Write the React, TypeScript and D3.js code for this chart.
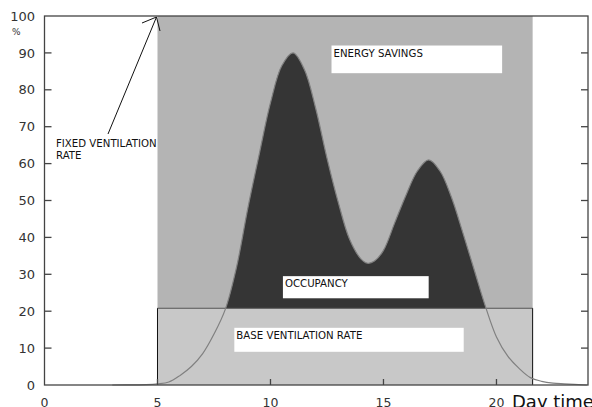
import React from "react";
import * as d3 from "d3";

// occupancy curve (hour of day, %)
const hours = [3, 4, 4.5, 5, 5.5, 6, 6.5, 7, 7.5, 8, 8.5, 9, 9.5, 10, 10.5, 11, 11.5, 12, 12.5, 13, 13.5, 14, 14.3, 14.6, 15, 15.5, 16, 16.5, 17, 17.5, 18, 18.5, 19, 19.5, 20, 20.5, 21, 21.5, 22, 22.5, 23, 24];
const occupancy = [0, 0.05, 0.1, 0.3, 0.8, 2.6, 5, 8.5, 13.8, 20.5, 32, 48, 62.5, 76.5, 86.5, 90, 85.5, 75, 61.5, 49.5, 39.5, 34.2, 33, 33.6, 36.5, 44, 51.5, 58, 61, 58, 51, 41.5, 31.5, 21.5, 13, 7.8, 4.5, 2, 1, 0.5, 0.3, 0];

const baseRate = 20.8;
const fixedRate = 100;
const operStart = 5;
const operEnd = 21.6;

const xTicks = [0, 5, 10, 15, 20];
const yTicks = [0, 10, 20, 30, 40, 50, 60, 70, 80, 90, 100];

const W = 592;
const H = 407;
const m = { left: 44.5, right: 4, top: 16, bottom: 22 };

export default function App() {
  const x = d3.scaleLinear().domain([0, 24.05]).range([m.left, W - m.right]);
  const y = d3.scaleLinear().domain([0, 100]).range([H - m.bottom, m.top]);

  const pts = hours.map((h, i) => ({ h, v: occupancy[i] }));
  const inside = pts.filter((p) => p.h >= operStart && p.h <= operEnd);

  const smooth = d3.curveCatmullRom.alpha(0.5);

  const line = d3
    .line<{ h: number; v: number }>()
    .x((d) => x(d.h))
    .y((d) => y(d.v))
    .curve(smooth);

  // occupancy fill, clipped to the part above the base rate
  const darkArea = d3
    .area<{ h: number; v: number }>()
    .x((d) => x(d.h))
    .y0(y(0))
    .y1((d) => y(d.v))
    .curve(smooth);

  const axisCol = "#444";
  const font = "DejaVu Sans, sans-serif";

  const labelBox = (
    x0: number,
    x1: number,
    v0: number,
    v1: number,
    text: string
  ) => (
    <g>
      <rect x={x(x0)} y={y(v1)} width={x(x1) - x(x0)} height={y(v0) - y(v1)} fill="#fff" />
      <text x={x(x0) + 2} y={y(v1) + 11} fontSize={10.2} fontFamily={font} fill="#111">
        {text}
      </text>
    </g>
  );

  return (
    <svg
      width={W}
      height={H}
      style={{ position: "absolute", left: 0, top: 0, background: "#fff" }}
    >
      <defs>
        <clipPath id="aboveBase">
          <rect
            x={x(operStart)}
            y={y(fixedRate)}
            width={x(operEnd) - x(operStart)}
            height={y(baseRate) - y(fixedRate)}
          />
        </clipPath>
      </defs>

      {/* fixed ventilation annotation text (behind gray area) */}
      <text fontSize={10.2} fontFamily={font} fill="#111">
        <tspan x={56} y={147}>FIXED VENTILATION</tspan>
        <tspan x={56} y={159}>RATE</tspan>
      </text>

      {/* energy savings region */}
      <rect
        x={x(operStart)}
        y={y(fixedRate)}
        width={x(operEnd) - x(operStart)}
        height={y(0) - y(fixedRate)}
        fill="#b4b4b4"
      />
      {/* base ventilation */}
      <rect
        x={x(operStart)}
        y={y(baseRate)}
        width={x(operEnd) - x(operStart)}
        height={y(0) - y(baseRate)}
        fill="#c8c8c8"
      />

      <path d={darkArea(inside) ?? ""} fill="#353535" clipPath="url(#aboveBase)" />

      <line x1={x(operStart)} x2={x(operEnd)} y1={y(baseRate)} y2={y(baseRate)} stroke="#555" strokeWidth={1.2} />
      <line x1={x(operStart)} x2={x(operStart)} y1={y(baseRate)} y2={y(0)} stroke="#111" strokeWidth={1} />
      <line x1={x(operEnd)} x2={x(operEnd)} y1={y(baseRate)} y2={y(0)} stroke="#111" strokeWidth={1} />

      <path d={line(pts) ?? ""} fill="none" stroke="#808080" strokeWidth={1.2} />

      {labelBox(12.7, 20.25, 84.5, 92, "ENERGY SAVINGS")}
      {labelBox(10.55, 17, 23.5, 29.5, "OCCUPANCY")}
      {labelBox(8.4, 18.55, 9, 15.5, "BASE VENTILATION RATE")}

      {/* arrow */}
      <g stroke="#111" strokeWidth={1} fill="none">
        <line x1={108} y1={134} x2={x(operStart) - 1} y2={y(fixedRate) + 1} />
        <polyline points={`${142},${23} ${x(operStart) - 1},${y(fixedRate) + 1} ${160},${31}`} />
      </g>

      {/* frame */}
      <rect
        x={x(0)}
        y={y(100)}
        width={W - m.right - x(0)}
        height={y(0) - y(100)}
        fill="none"
        stroke={axisCol}
        strokeWidth={1.3}
      />
      {yTicks.slice(1, -1).map((t) => (
        <g key={"y" + t}>
          <line x1={x(0)} x2={x(0) + 7} y1={y(t)} y2={y(t)} stroke={axisCol} strokeWidth={1.3} />
          <line x1={W - m.right} x2={W - m.right - 7} y1={y(t)} y2={y(t)} stroke={axisCol} strokeWidth={1.3} />
        </g>
      ))}
      {yTicks.map((t) => (
        <text
          key={"yl" + t}
          x={35}
          y={y(t)}
          dy="0.36em"
          textAnchor="end"
          fontSize={13}
          fontFamily={font}
          fill="#333"
        >
          {t}
        </text>
      ))}
      <text x={12} y={35} fontSize={9} fontFamily={font} fill="#333">
        %
      </text>
      {xTicks.slice(1).map((t) => (
        <line key={"x" + t} x1={x(t)} x2={x(t)} y1={y(0)} y2={y(0) - 6} stroke={axisCol} strokeWidth={1.3} />
      ))}
      {xTicks.map((t) => (
        <text
          key={"xl" + t}
          x={x(t)}
          y={H - 0.5}
          textAnchor="middle"
          fontSize={12.5}
          fontFamily={font}
          fill="#333"
        >
          {t}
        </text>
      ))}
      <text x={512} y={H + 1} fontSize={18} fontFamily={font} fill="#111">
        Day time
      </text>
    </svg>
  );
}
